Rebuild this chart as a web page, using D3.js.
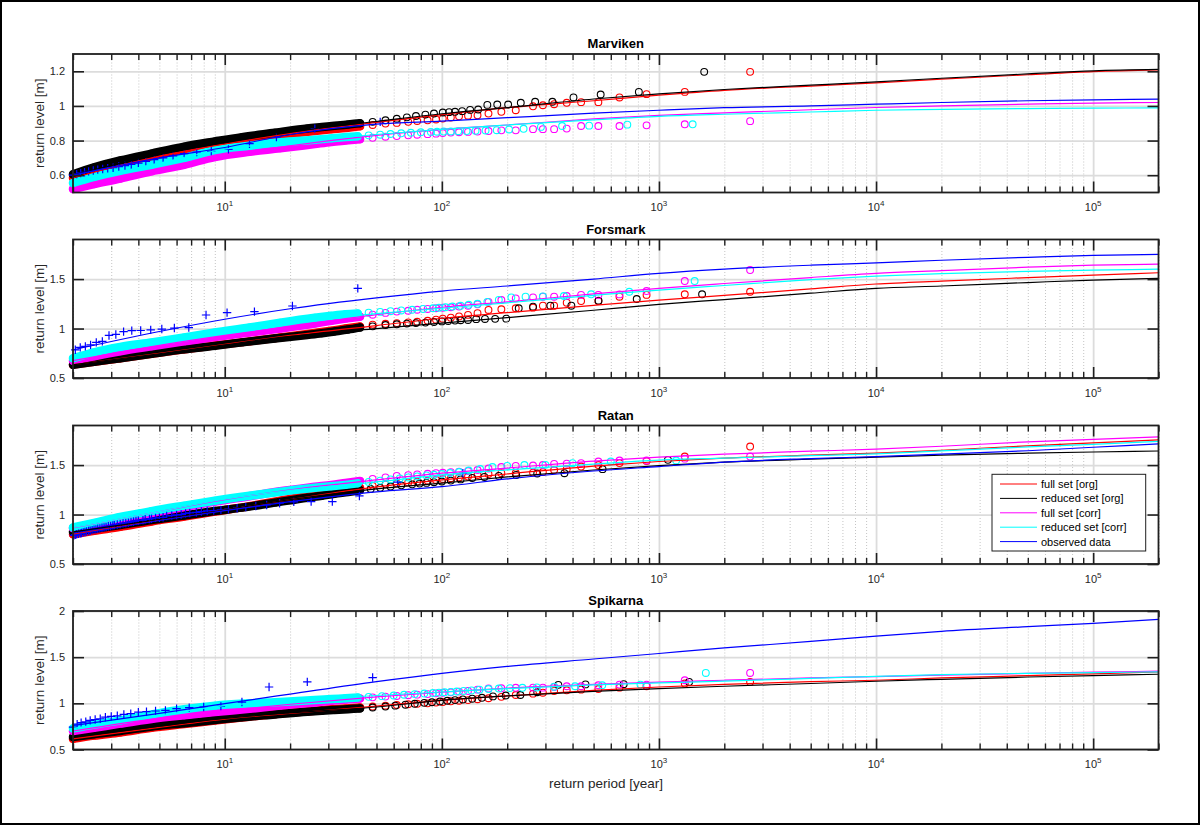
<!DOCTYPE html>
<html>
<head>
<meta charset="utf-8">
<script src="https://cdn.jsdelivr.net/npm/d3@7"></script>
<style>
  body { margin: 0; background: #fff; }
  svg { display: block; font-family: "Liberation Sans", Arial, Helvetica, sans-serif; }
</style>
</head>
<body>
<svg id="chart" width="1200" height="825"></svg>
<script>
// ---------- data ----------
const stations = ['Marviken', 'Forsmark', 'Ratan', 'Spikarna'];
const yDomains = [[0.5, 1.3], [0.5, 1.9], [0.5, 1.9], [0.5, 2]];
const yTickValues = [[0.6, 0.8, 1, 1.2], [0.5, 1, 1.5], [0.5, 1, 1.5], [0.5, 1, 1.5, 2]];
const xMajor = [10, 100, 1e3, 1e4, 1e5];
const xMajorExp = ['1', '2', '3', '4', '5'];
const legendLabels = ['full set [org]', 'reduced set [org]', 'full set [corr]', 'reduced set [corr]', 'observed data'];
const seriesColors = ['#ff0000', '#000000', '#ff00ff', '#00ffff', '#0000ff'];

// return periods of the fitted curves
const lineT = [2, 5, 10, 20, 50, 100, 200, 500, 1e3, 2e3, 5e3, 1e4, 2e4, 5e4, 1e5, 2e5];
// return periods of the full-set points (same for all stations)
const fullT = [2630, 1315, 877, 658, 526, 438, 376, 329, 292, 263, 219, 188, 164, 146, 132, 120, 110, 101, 94, 86, 77, 70, 62, 55, 48, 42, 36, 31, 26, 18, 13, 9, 6.5, 4.6, 3.3, 2.5, 2.0];

// Marviken
const mvFullOrg  = [1.197, 1.081, 1.068, 1.049, 1.022, 1.022, 1.018, 1.010, 1.004, 0.998, 0.975, 0.966, 0.956, 0.946, 0.944, 0.94, 0.933, 0.927, 0.922, 0.917, 0.913, 0.908, 0.902, 0.898, 0.89, 0.882, 0.872, 0.865, 0.855, 0.83, 0.805, 0.775, 0.745, 0.705, 0.665, 0.625, 0.585];
const mvFullCorr = [0.912, 0.894, 0.888, 0.884, 0.884, 0.884, 0.869, 0.866, 0.866, 0.866, 0.859, 0.859, 0.855, 0.852, 0.85, 0.848, 0.846, 0.843, 0.84, 0.837, 0.834, 0.83, 0.826, 0.822, 0.816, 0.808, 0.80, 0.792, 0.78, 0.755, 0.735, 0.705, 0.66, 0.622, 0.58, 0.548, 0.52];
const mvRedT     = [1616, 808, 539, 404, 323, 269, 231, 202, 180, 162, 147, 135, 124, 115, 108, 101, 92, 84, 76, 69, 62, 55, 48, 42, 37, 32, 28, 24, 17, 12, 9, 6.5, 4.6, 3.3, 2.5, 2.0];
const mvRedOrg   = [1.197, 1.081, 1.066, 1.049, 1.024, 1.024, 1.018, 1.008, 1.008, 1.006, 0.979, 0.977, 0.97, 0.966, 0.964, 0.962, 0.956, 0.95, 0.942, 0.934, 0.926, 0.917, 0.908, 0.90, 0.893, 0.885, 0.878, 0.87, 0.845, 0.82, 0.795, 0.765, 0.725, 0.685, 0.645, 0.605];
const mvCorrT    = [1430, 715, 477, 358, 286, 238, 204, 179, 159, 143, 130, 119, 110, 102, 95, 89, 80, 72, 65, 58, 52, 46, 41, 36, 31, 26, 18, 13, 9, 6.5, 4.6, 3.3, 2.5, 2.0];
const mvRedCorr  = [0.894, 0.892, 0.886, 0.884, 0.879, 0.868, 0.864, 0.86, 0.858, 0.856, 0.855, 0.854, 0.853, 0.852, 0.851, 0.85, 0.848, 0.845, 0.842, 0.838, 0.834, 0.83, 0.825, 0.82, 0.813, 0.805, 0.79, 0.77, 0.745, 0.70, 0.66, 0.625, 0.59, 0.555];
const mvObsT     = [52, 26, 17.3, 13, 10.4, 8.67, 7.43, 6.5, 5.78, 5.2, 4.73, 4.33, 4.0, 3.71, 3.47, 3.25, 3.06, 2.89, 2.74, 2.6, 2.48, 2.36, 2.26, 2.17, 2.08, 2.0];
const mvObs      = [0.908, 0.869, 0.82, 0.782, 0.749, 0.739, 0.734, 0.724, 0.712, 0.70, 0.69, 0.68, 0.67, 0.662, 0.655, 0.65, 0.643, 0.64, 0.636, 0.632, 0.627, 0.622, 0.617, 0.612, 0.606, 0.60];
const mvFitFullOrg  = [0.585, 0.71, 0.78, 0.84, 0.905, 0.95, 0.99, 1.03, 1.062, 1.09, 1.115, 1.133, 1.155, 1.18, 1.198, 1.208];
const mvFitRedOrg   = [0.60, 0.72, 0.79, 0.85, 0.91, 0.955, 0.99, 1.04, 1.07, 1.095, 1.12, 1.139, 1.16, 1.185, 1.203, 1.211];
const mvFitFullCorr = [0.52, 0.63, 0.715, 0.77, 0.83, 0.865, 0.89, 0.925, 0.946, 0.96, 0.978, 0.991, 1.0, 1.01, 1.016, 1.02];
const mvFitRedCorr  = [0.555, 0.67, 0.75, 0.79, 0.835, 0.865, 0.89, 0.92, 0.94, 0.952, 0.965, 0.975, 0.98, 0.985, 0.987, 0.989];
const mvFitObs      = [0.60, 0.70, 0.76, 0.835, 0.895, 0.912, 0.932, 0.958, 0.975, 0.99, 1.0, 1.01, 1.02, 1.03, 1.035, 1.039];

// Forsmark
const fsFullOrg  = [1.372, 1.346, 1.34, 1.322, 1.278, 1.278, 1.261, 1.231, 1.231, 1.211, 1.205, 1.195, 1.188, 1.155, 1.138, 1.122, 1.11, 1.1, 1.09, 1.078, 1.068, 1.062, 1.055, 1.048, 1.04, 1.02, 1.0, 0.978, 0.955, 0.91, 0.87, 0.83, 0.79, 0.745, 0.70, 0.665, 0.635];
const fsFullCorr = [1.591, 1.48, 1.379, 1.345, 1.34, 1.34, 1.329, 1.322, 1.322, 1.315, 1.305, 1.288, 1.27, 1.245, 1.231, 1.222, 1.215, 1.21, 1.205, 1.198, 1.19, 1.18, 1.171, 1.158, 1.14, 1.12, 1.10, 1.078, 1.05, 1.0, 0.96, 0.915, 0.87, 0.82, 0.77, 0.72, 0.675];
const fsRedT     = [1580, 790, 527, 395, 316, 263, 226, 198, 176, 158, 144, 132, 122, 115, 107, 100, 92, 84, 76, 69, 62, 55, 48, 42, 37, 32, 28, 24, 17, 12, 9, 6.5, 4.6, 3.3, 2.5, 2.0];
const fsRedOrg   = [1.346, 1.298, 1.282, 1.231, 1.231, 1.221, 1.205, 1.1, 1.098, 1.097, 1.095, 1.087, 1.084, 1.08, 1.076, 1.072, 1.066, 1.06, 1.055, 1.05, 1.043, 1.035, 1.022, 1.01, 0.99, 0.97, 0.952, 0.935, 0.90, 0.86, 0.825, 0.79, 0.745, 0.70, 0.665, 0.634];
const fsCorrT    = [1460, 730, 487, 365, 292, 243, 209, 183, 162, 146, 133, 122, 112, 104, 97, 91, 82, 73, 65, 58, 52, 46, 41, 36, 31, 26, 18, 13, 9, 6.5, 4.6, 3.3, 2.5, 2.0];
const fsRedCorr  = [1.48, 1.372, 1.346, 1.329, 1.325, 1.322, 1.315, 1.29, 1.27, 1.25, 1.24, 1.23, 1.222, 1.215, 1.21, 1.205, 1.198, 1.19, 1.183, 1.175, 1.168, 1.16, 1.153, 1.145, 1.13, 1.11, 1.06, 1.01, 0.96, 0.91, 0.86, 0.815, 0.76, 0.70];
const fsObsT     = [41, 20.5, 13.7, 10.25, 8.2, 6.83, 5.86, 5.13, 4.56, 4.1, 3.73, 3.42, 3.15, 2.93, 2.73, 2.56, 2.41, 2.28, 2.16, 2.05];
const fsObs      = [1.406, 1.228, 1.171, 1.161, 1.137, 1.01, 1.005, 0.995, 0.986, 0.98, 0.979, 0.969, 0.94, 0.93, 0.87, 0.86, 0.835, 0.82, 0.81, 0.785];
const fsFitFullOrg  = [0.635, 0.75, 0.84, 0.93, 1.03, 1.104, 1.16, 1.235, 1.288, 1.335, 1.40, 1.45, 1.48, 1.515, 1.54, 1.564];
const fsFitRedOrg   = [0.634, 0.745, 0.835, 0.92, 1.0, 1.054, 1.11, 1.185, 1.245, 1.293, 1.357, 1.406, 1.43, 1.465, 1.49, 1.507];
const fsFitFullCorr = [0.675, 0.83, 0.93, 1.02, 1.14, 1.215, 1.27, 1.35, 1.406, 1.455, 1.515, 1.557, 1.585, 1.62, 1.641, 1.651];
const fsFitRedCorr  = [0.70, 0.865, 0.97, 1.06, 1.15, 1.205, 1.26, 1.335, 1.389, 1.435, 1.495, 1.53, 1.555, 1.578, 1.59, 1.601];
const fsFitObs      = [0.785, 0.97, 1.094, 1.20, 1.31, 1.379, 1.43, 1.50, 1.557, 1.60, 1.64, 1.664, 1.69, 1.72, 1.739, 1.749];

// Ratan
const rtFullOrg  = [1.687, 1.586, 1.54, 1.52, 1.50, 1.485, 1.459, 1.45, 1.43, 1.424, 1.42, 1.418, 1.41, 1.40, 1.384, 1.375, 1.367, 1.358, 1.35, 1.342, 1.333, 1.325, 1.315, 1.305, 1.29, 1.27, 1.245, 1.225, 1.20, 1.14, 1.085, 1.03, 0.98, 0.93, 0.875, 0.835, 0.80];
const rtFullCorr = [1.586, 1.565, 1.546, 1.546, 1.536, 1.519, 1.515, 1.512, 1.50, 1.495, 1.492, 1.48, 1.465, 1.45, 1.44, 1.434, 1.428, 1.422, 1.418, 1.412, 1.405, 1.398, 1.39, 1.375, 1.36, 1.34, 1.32, 1.30, 1.28, 1.235, 1.185, 1.13, 1.075, 1.015, 0.96, 0.905, 0.862];
const rtRedT     = [1100, 550, 367, 275, 220, 183, 157, 138, 122, 110, 100, 92, 85, 79, 73, 65, 58, 52, 47, 42, 37, 32, 28, 24, 17, 12, 9, 6.5, 4.6, 3.3, 2.5, 2.0];
const rtRedOrg   = [1.553, 1.459, 1.418, 1.415, 1.40, 1.39, 1.38, 1.37, 1.355, 1.343, 1.334, 1.327, 1.32, 1.313, 1.305, 1.295, 1.283, 1.27, 1.258, 1.245, 1.228, 1.21, 1.19, 1.17, 1.12, 1.07, 1.035, 0.99, 0.945, 0.895, 0.855, 0.825];
const rtCorrT    = [1200, 600, 400, 300, 240, 200, 171, 150, 133, 120, 109, 100, 92, 85, 77, 70, 64, 58, 52, 46, 41, 36, 31, 26, 18, 13, 9, 6.5, 4.6, 3.3, 2.5, 2.0];
const rtRedCorr  = [1.546, 1.536, 1.519, 1.502, 1.50, 1.492, 1.48, 1.46, 1.445, 1.43, 1.42, 1.41, 1.402, 1.395, 1.385, 1.375, 1.365, 1.355, 1.343, 1.33, 1.315, 1.30, 1.285, 1.27, 1.23, 1.19, 1.14, 1.09, 1.035, 0.975, 0.915, 0.869];
const rtObsT     = [125, 62.5, 41.7, 31.3, 25, 20.8, 17.9, 15.6, 13.9, 12.5, 11.4, 10.4, 9.6, 8.9, 8.3, 7.8, 7.4, 6.9, 6.6, 6.3, 6.0, 5.7, 5.4, 5.2, 5.0, 4.8, 4.6, 4.5, 4.3, 4.2, 4.0, 3.9, 3.8, 3.7, 3.6, 3.5, 3.4, 3.3, 3.2, 3.1, 3.05, 2.98, 2.91, 2.84, 2.78, 2.72, 2.66, 2.6, 2.55, 2.5, 2.45, 2.4, 2.36, 2.31, 2.27, 2.23, 2.19, 2.16, 2.12, 2.08, 2.05, 2.02];
const rtObs      = [1.418, 1.328, 1.188, 1.131, 1.131, 1.128, 1.114, 1.097, 1.087, 1.075, 1.064, 1.054, 1.047, 1.04, 1.036, 1.03, 1.022, 1.016, 1.012, 1.0, 0.996, 0.99, 0.985, 0.972, 0.968, 0.966, 0.958, 0.955, 0.952, 0.944, 0.94, 0.937, 0.93, 0.926, 0.918, 0.915, 0.912, 0.904, 0.9, 0.893, 0.89, 0.884, 0.881, 0.875, 0.87, 0.866, 0.86, 0.857, 0.85, 0.847, 0.842, 0.836, 0.834, 0.828, 0.823, 0.82, 0.814, 0.81, 0.806, 0.80, 0.796, 0.79];
const rtFitFullOrg  = [0.80, 0.945, 1.045, 1.15, 1.28, 1.35, 1.41, 1.49, 1.536, 1.57, 1.60, 1.62, 1.65, 1.695, 1.725, 1.755];
const rtFitRedOrg   = [0.825, 0.95, 1.046, 1.15, 1.26, 1.317, 1.38, 1.45, 1.495, 1.53, 1.56, 1.58, 1.60, 1.62, 1.632, 1.642];
const rtFitFullCorr = [0.865, 1.03, 1.15, 1.25, 1.35, 1.418, 1.47, 1.54, 1.58, 1.61, 1.64, 1.661, 1.69, 1.735, 1.76, 1.785];
const rtFitRedCorr  = [0.869, 1.03, 1.155, 1.244, 1.33, 1.40, 1.45, 1.51, 1.55, 1.57, 1.595, 1.613, 1.643, 1.683, 1.71, 1.74];
const rtFitObs      = [0.79, 0.94, 1.04, 1.13, 1.23, 1.282, 1.36, 1.44, 1.485, 1.53, 1.565, 1.586, 1.61, 1.645, 1.68, 1.715];

// Spikarna
const spFullOrg  = [1.232, 1.214, 1.185, 1.17, 1.155, 1.148, 1.141, 1.134, 1.115, 1.105, 1.09, 1.07, 1.055, 1.045, 1.035, 1.028, 1.022, 1.014, 1.008, 1.0, 0.995, 0.99, 0.982, 0.975, 0.965, 0.955, 0.945, 0.935, 0.92, 0.89, 0.855, 0.815, 0.775, 0.735, 0.685, 0.65, 0.615];
const spFullCorr = [1.329, 1.25, 1.203, 1.203, 1.196, 1.185, 1.185, 1.177, 1.17, 1.17, 1.168, 1.163, 1.16, 1.148, 1.134, 1.127, 1.12, 1.114, 1.108, 1.1, 1.094, 1.088, 1.08, 1.073, 1.065, 1.052, 1.04, 1.027, 1.01, 0.975, 0.94, 0.905, 0.87, 0.83, 0.78, 0.735, 0.70];
const spRedT     = [1377, 688, 459, 344, 275, 230, 197, 172, 153, 138, 125, 115, 106, 98, 90, 83, 75, 68, 61, 55, 48, 42, 37, 32, 28, 24, 17, 12, 9, 6.5, 4.6, 3.3, 2.5, 2.0];
const spRedOrg   = [1.232, 1.207, 1.205, 1.20, 1.12, 1.09, 1.085, 1.075, 1.06, 1.05, 1.042, 1.035, 1.028, 1.02, 1.012, 1.005, 0.995, 0.985, 0.975, 0.965, 0.955, 0.945, 0.937, 0.928, 0.92, 0.91, 0.88, 0.85, 0.82, 0.785, 0.75, 0.70, 0.665, 0.635];
const spCorrT    = [1644, 822, 548, 411, 329, 274, 235, 206, 183, 164, 149, 137, 126, 117, 110, 103, 97, 91, 83, 75, 67, 60, 53, 46, 41, 36, 31, 26, 18, 13, 9, 6.5, 4.6, 3.3, 2.5, 2.0];
const spRedCorr  = [1.329, 1.203, 1.196, 1.185, 1.18, 1.172, 1.168, 1.165, 1.16, 1.155, 1.148, 1.14, 1.134, 1.128, 1.124, 1.12, 1.116, 1.112, 1.106, 1.10, 1.093, 1.085, 1.078, 1.07, 1.063, 1.055, 1.046, 1.035, 1.015, 1.0, 0.975, 0.935, 0.88, 0.815, 0.77, 0.728];
const spObsT     = [48, 24, 16, 12, 9.6, 8, 6.86, 6, 5.33, 4.8, 4.36, 4, 3.69, 3.43, 3.2, 3.0, 2.82, 2.67, 2.53, 2.4, 2.29, 2.18, 2.09, 2.0];
const spObs      = [1.279, 1.232, 1.177, 1.014, 0.967, 0.96, 0.953, 0.942, 0.924, 0.917, 0.91, 0.905, 0.888, 0.88, 0.865, 0.859, 0.85, 0.833, 0.825, 0.815, 0.80, 0.79, 0.775, 0.742];
const spFitFullOrg  = [0.615, 0.74, 0.83, 0.89, 0.97, 1.033, 1.08, 1.14, 1.177, 1.205, 1.235, 1.25, 1.275, 1.30, 1.32, 1.34];
const spFitRedOrg   = [0.635, 0.753, 0.837, 0.897, 0.96, 1.033, 1.08, 1.13, 1.16, 1.185, 1.215, 1.239, 1.26, 1.285, 1.30, 1.315];
const spFitFullCorr = [0.70, 0.84, 0.92, 0.99, 1.07, 1.12, 1.165, 1.205, 1.23, 1.25, 1.275, 1.29, 1.305, 1.325, 1.338, 1.348];
const spFitRedCorr  = [0.728, 0.875, 0.975, 1.03, 1.085, 1.123, 1.16, 1.20, 1.221, 1.24, 1.27, 1.293, 1.31, 1.325, 1.333, 1.34];
const spFitObs      = [0.76, 0.892, 0.997, 1.10, 1.235, 1.325, 1.40, 1.48, 1.54, 1.60, 1.67, 1.728, 1.78, 1.83, 1.866, 1.91];

// per panel, in drawing order: full org (red), reduced org (black), full corr (magenta), reduced corr (cyan)
const scatterSets = [
  [[fullT, mvFullOrg], [mvRedT, mvRedOrg], [fullT, mvFullCorr], [mvCorrT, mvRedCorr]],
  [[fullT, fsFullOrg], [fsRedT, fsRedOrg], [fullT, fsFullCorr], [fsCorrT, fsRedCorr]],
  [[fullT, rtFullOrg], [rtRedT, rtRedOrg], [fullT, rtFullCorr], [rtCorrT, rtRedCorr]],
  [[fullT, spFullOrg], [spRedT, spRedOrg], [fullT, spFullCorr], [spCorrT, spRedCorr]]
];
const obsSets = [[mvObsT, mvObs], [fsObsT, fsObs], [rtObsT, rtObs], [spObsT, spObs]];
const fitSets = [
  [mvFitFullOrg, mvFitRedOrg, mvFitFullCorr, mvFitRedCorr, mvFitObs],
  [fsFitFullOrg, fsFitRedOrg, fsFitFullCorr, fsFitRedCorr, fsFitObs],
  [rtFitFullOrg, rtFitRedOrg, rtFitFullCorr, rtFitRedCorr, rtFitObs],
  [spFitFullOrg, spFitRedOrg, spFitFullCorr, spFitRedCorr, spFitObs]
];

// ---------- layout ----------
const svg = d3.select('#chart');
const left = 73, right = 1158.5, panelH = 138.5;
const panelTop = [54, 239.5, 425.5, 611];
const axisColor = '#1f1f1f';

const x = d3.scaleLog().domain([2, 2e5]).range([left, right]);
const xMinor = x.ticks().filter(t => !xMajor.some(m => Math.abs(m - t) < 1e-6 * m));

// figure frame
svg.append('rect')
  .attr('x', 1).attr('y', 1).attr('width', 1198).attr('height', 823)
  .style('fill', '#fff').style('stroke', '#000').style('stroke-width', 2);

const styleTicks = (sel, color, width, dash) => {
  sel.select('.domain').remove();
  sel.selectAll('line').style('stroke', color).style('stroke-width', width);
  if (dash) sel.selectAll('line').style('stroke-dasharray', dash);
};

stations.forEach((name, i) => {
  const top = panelTop[i];
  const bottom = top + panelH;
  const y = d3.scaleLinear().domain(yDomains[i]).range([bottom, top]);
  const g = svg.append('g');

  // grids
  g.append('g').attr('transform', `translate(0,${bottom})`)
    .call(d3.axisBottom(x).tickValues(xMinor).tickSize(-panelH).tickFormat(''))
    .call(s => styleTicks(s, '#c4c4c4', 1, '1,2'));
  g.append('g').attr('transform', `translate(0,${bottom})`)
    .call(d3.axisBottom(x).tickValues(xMajor).tickSize(-panelH).tickFormat(''))
    .call(s => styleTicks(s, '#dcdcdc', 1.8));
  g.append('g').attr('transform', `translate(${left},0)`)
    .call(d3.axisLeft(y).tickValues(yTickValues[i]).tickSize(-(right - left)).tickFormat(''))
    .call(s => styleTicks(s, '#dcdcdc', 1.8));

  // sample points: the dense low end drawn as a band of overlapping markers, then open circles
  const band = d3.line().x(d => x(d[0])).y(d => y(d[1])).curve(d3.curveMonotoneX);
  scatterSets[i].forEach(([T, v], k) => {
    const pts = d3.zip(T, v);
    const dense = pts.filter(d => d[0] <= 45).sort((a, b) => a[0] - b[0]);
    g.append('path')
      .attr('d', band(dense))
      .style('fill', 'none')
      .style('stroke', seriesColors[k])
      .style('stroke-width', 8.5)
      .style('stroke-linecap', 'round');
    g.append('g').selectAll('circle')
      .data(pts)
      .join('circle')
      .attr('cx', d => x(d[0]))
      .attr('cy', d => y(d[1]))
      .attr('r', 3.4)
      .style('fill', 'none')
      .style('stroke', seriesColors[k])
      .style('stroke-width', 1.1);
  });

  // observed data
  g.append('g').selectAll('path')
    .data(d3.zip(obsSets[i][0], obsSets[i][1]))
    .join('path')
    .attr('transform', d => `translate(${x(d[0])},${y(d[1])})`)
    .attr('d', 'M-4.2,0H4.2M0,-4.2V4.2')
    .style('stroke', seriesColors[4])
    .style('stroke-width', 1.2)
    .style('fill', 'none');

  // fitted curves
  const line = d3.line().x(d => x(d[0])).y(d => y(d[1])).curve(d3.curveMonotoneX);
  fitSets[i].forEach((vals, k) => {
    g.append('path')
      .attr('d', line(d3.zip(lineT, vals)))
      .style('fill', 'none')
      .style('stroke', seriesColors[k])
      .style('stroke-width', 1.2);
  });

  // box and inward ticks
  g.append('rect')
    .attr('x', left).attr('y', top).attr('width', right - left).attr('height', panelH)
    .style('fill', 'none').style('stroke', axisColor).style('stroke-width', 1.8);
  [[d3.axisBottom, bottom], [d3.axisTop, top]].forEach(([ax, pos]) => {
    g.append('g').attr('transform', `translate(0,${pos})`)
      .call(ax(x).tickValues(xMajor).tickSize(-11).tickFormat(''))
      .call(s => styleTicks(s, axisColor, 1.6));
    g.append('g').attr('transform', `translate(0,${pos})`)
      .call(ax(x).tickValues(xMinor).tickSize(-6).tickFormat(''))
      .call(s => styleTicks(s, axisColor, 1.4));
  });
  g.append('g').attr('transform', `translate(${right},0)`)
    .call(d3.axisRight(y).tickValues(yTickValues[i]).tickSize(-11).tickFormat(''))
    .call(s => styleTicks(s, axisColor, 1.6));
  const yAxis = g.append('g').attr('transform', `translate(${left},0)`)
    .call(d3.axisLeft(y).tickValues(yTickValues[i]).tickSize(-11).tickPadding(8).tickFormat(d3.format('')))
    .call(s => styleTicks(s, axisColor, 1.6));
  yAxis.attr('font-family', null).attr('font-size', null);
  yAxis.selectAll('text')
    .style('font-size', '11px')
    .style('fill', '#262626');

  // x tick labels 10^n
  const xl = g.append('g').selectAll('text')
    .data(xMajor)
    .join('text')
    .attr('x', d => x(d))
    .attr('y', bottom + 18.5)
    .attr('text-anchor', 'middle')
    .style('font-size', '11px')
    .style('fill', '#262626');
  xl.append('tspan').text('10');
  xl.append('tspan').attr('dy', -5).style('font-size', '8px').text((d, j) => xMajorExp[j]);

  // title and y label
  g.append('text')
    .attr('x', (left + right) / 2).attr('y', top - 6)
    .attr('text-anchor', 'middle')
    .style('font-size', '13px').style('font-weight', 'bold').style('fill', '#000')
    .text(name);
  g.append('text')
    .attr('transform', `translate(43.5,${top + panelH / 2}) rotate(-90)`)
    .attr('text-anchor', 'middle')
    .style('font-size', '13.5px').style('fill', '#262626')
    .text('return level [m]');

  // legend in the Ratan panel
  if (i === 2) {
    const lg = g.append('g');
    lg.append('rect')
      .attr('x', right - 166.5).attr('y', top + 48.8).attr('width', 153.7).attr('height', 76.7)
      .style('fill', '#fff').style('stroke', axisColor).style('stroke-width', 1);
    legendLabels.forEach((lab, k) => {
      const ly = top + 58.5 + k * 14.4;
      lg.append('line')
        .attr('x1', right - 158.5).attr('x2', right - 121.5).attr('y1', ly).attr('y2', ly)
        .style('stroke', seriesColors[k]).style('stroke-width', 1);
      lg.append('text')
        .attr('x', right - 117.5).attr('y', ly + 4)
        .style('font-size', '11px').style('fill', '#000')
        .text(lab);
    });
  }
});

svg.append('text')
  .attr('x', 606).attr('y', 787.5)
  .attr('text-anchor', 'middle')
  .style('font-size', '13.5px').style('fill', '#262626')
  .text('return period [year]');
</script>
</body>
</html>
